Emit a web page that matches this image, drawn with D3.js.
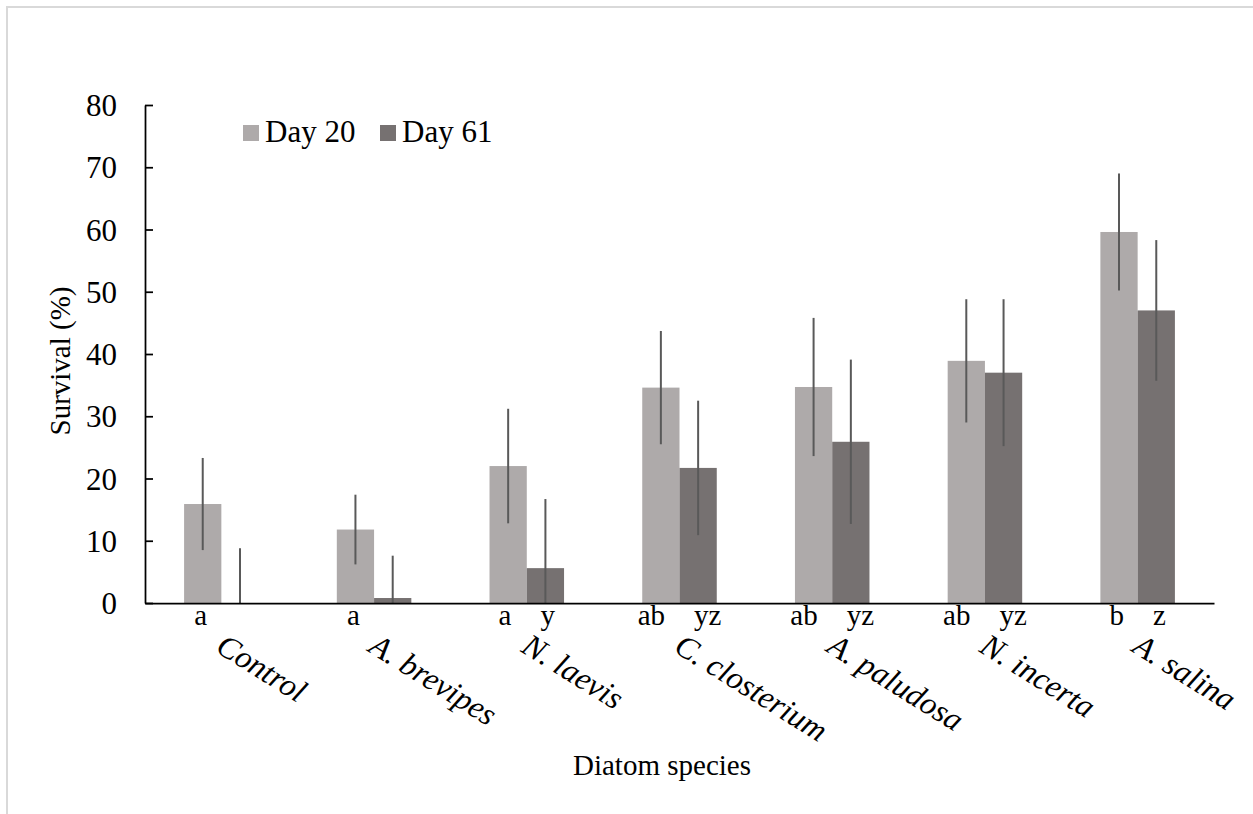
<!DOCTYPE html>
<html>
<head>
<meta charset="utf-8">
<script src="https://cdn.jsdelivr.net/npm/d3@7"></script>
<style>
  body { margin: 0; background: #fff; }
  svg text { font-family: "Liberation Serif", "Times New Roman", serif; fill: #000; }
</style>
</head>
<body>
<div id="chart"></div>
<script>
// values (survival %, mean and error)
const categories = ['Control', 'A. brevipes', 'N. laevis', 'C. closterium', 'A. paludosa', 'N. incerta', 'A. salina'];
const seriesNames = ['Day 20', 'Day 61'];
const day20 = [15.9, 11.8, 22.0, 34.6, 34.7, 38.9, 59.6];
const day20Err = [7.4, 5.6, 9.2, 9.1, 11.1, 9.9, 9.4];
const day61 = [0, 0.8, 5.6, 21.7, 25.9, 37.0, 47.0];
const day61Err = [8.8, 6.8, 11.1, 10.8, 13.2, 11.8, 11.3];
const letters20 = ['a', 'a', 'a', 'ab', 'ab', 'ab', 'b'];
const letters61 = ['', '', 'y', 'yz', 'yz', 'yz', 'z'];
const yTicks = [0, 10, 20, 30, 40, 50, 60, 70, 80];

const W = 1253, H = 814;
const margin = { top: 105, right: 39, bottom: 211, left: 145 };
const colors = { 'Day 20': '#aeaaaa', 'Day 61': '#767171' };

const svg = d3.select('#chart').append('svg')
  .attr('width', W)
  .attr('height', H);

// light frame of the chart area
svg.append('rect')
  .attr('x', 7).attr('y', 7)
  .attr('width', W + 20).attr('height', H + 20)
  .attr('fill', 'none')
  .attr('stroke', '#d9d9d9')
  .attr('stroke-width', 2);

const x0 = d3.scaleBand()
  .domain(categories)
  .range([margin.left, W - margin.right])
  .paddingInner(0.512)
  .paddingOuter(0.256);

const x1 = d3.scaleBand()
  .domain(seriesNames)
  .range([0, x0.bandwidth()]);

const y = d3.scaleLinear()
  .domain([0, 80])
  .range([H - margin.bottom, margin.top]);

const rows = categories.map((c, i) => ({
  cat: c,
  vals: [
    { s: 'Day 20', v: day20[i], e: day20Err[i] },
    { s: 'Day 61', v: day61[i], e: day61Err[i] }
  ]
}));

// bars
const groups = svg.selectAll('.grp')
  .data(rows)
  .enter()
  .append('g')
  .attr('class', 'grp')
  .attr('transform', d => `translate(${x0(d.cat)},0)`);

groups.selectAll('rect')
  .data(d => d.vals)
  .enter()
  .append('rect')
  .attr('x', d => x1(d.s))
  .attr('y', d => y(d.v))
  .attr('width', x1.bandwidth())
  .attr('height', d => y(0) - y(d.v))
  .attr('fill', d => colors[d.s]);

// error bars (no caps, lower end stops at zero)
groups.selectAll('line.err')
  .data(d => d.vals)
  .enter()
  .append('line')
  .attr('class', 'err')
  .attr('x1', d => x1(d.s) + x1.bandwidth() / 2)
  .attr('x2', d => x1(d.s) + x1.bandwidth() / 2)
  .attr('y1', d => y(Math.max(0, d.v - d.e)))
  .attr('y2', d => y(d.v + d.e))
  .attr('stroke', '#595959')
  .attr('stroke-width', 2);

// Y axis
const yAxis = svg.append('g')
  .attr('transform', `translate(${margin.left},0)`)
  .call(d3.axisLeft(y).tickValues(yTicks).tickSizeInner(-8).tickSizeOuter(0).tickPadding(28));
yAxis.select('.domain').attr('stroke', '#000').attr('stroke-width', 1.75);
yAxis.selectAll('.tick line').attr('stroke', '#000').attr('stroke-width', 1.75);
yAxis.selectAll('.tick text')
  .style('font-family', '"Liberation Serif", serif')
  .style('font-size', '31px')
  .attr('dy', '0.34em')
  .attr('fill', '#000');

// X axis line
const xAxis = svg.append('g')
  .attr('transform', `translate(0,${y(0)})`)
  .call(d3.axisBottom(x0).tickSize(0).tickFormat(''));
xAxis.select('.domain').attr('stroke', '#000').attr('stroke-width', 1.75);

// significance letters
svg.selectAll('.sig')
  .data(categories)
  .enter()
  .append('text')
  .attr('class', 'sig')
  .attr('x', (c, i) => letters61[i] ? x0(c) + x0.bandwidth() / 2 : x0(c) + x1('Day 20') + x1.bandwidth() / 2 - 2)
  .attr('y', y(0) + 22)
  .attr('text-anchor', 'middle')
  .style('white-space', 'pre')
  .style('font-size', '29px')
  .text((c, i) => letters61[i] ? letters20[i] + '    ' + letters61[i] : letters20[i]);

// rotated category labels
svg.selectAll('.cat')
  .data(categories)
  .enter()
  .append('text')
  .attr('class', 'cat')
  .attr('transform', c => `translate(${x0(c) + x0.bandwidth() / 2 - 7},${y(0) + 48}) rotate(32)`)
  .style('font-size', '32px')
  .style('font-style', 'italic')
  .text(c => c);

// axis titles
svg.append('text')
  .attr('x', 662)
  .attr('y', 775)
  .attr('text-anchor', 'middle')
  .style('font-size', '29px')
  .text('Diatom species');

svg.append('text')
  .attr('transform', 'translate(70,361) rotate(-90)')
  .attr('text-anchor', 'middle')
  .style('font-size', '29px')
  .text('Survival (%)');

// legend
const legend = svg.append('g')
  .selectAll('g')
  .data(seriesNames)
  .enter()
  .append('g')
  .attr('transform', (d, i) => `translate(${243 + i * 137},125)`);
legend.append('rect')
  .attr('width', 16)
  .attr('height', 16)
  .attr('fill', d => colors[d]);
legend.append('text')
  .attr('x', 22)
  .attr('y', 17)
  .style('font-size', '31px')
  .text(d => d);
</script>
</body>
</html>
